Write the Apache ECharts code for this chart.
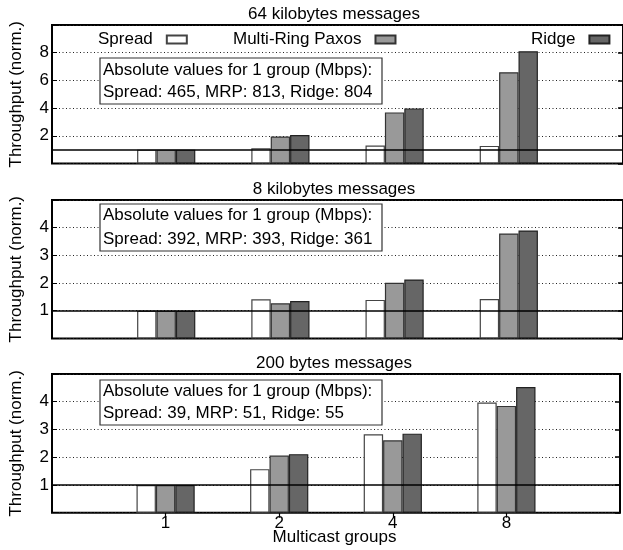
<!DOCTYPE html>
<html>
<head>
<meta charset="utf-8">
<script src="https://cdn.jsdelivr.net/npm/echarts@6/dist/echarts.min.js"></script>
<style>html,body{margin:0;padding:0;background:#fff;}#c{width:623px;height:550px;}</style>
</head>
<body>
<div id="c"></div>
<script>
// ---- data ----
var groups = ['1', '2', '4', '8'];
var seriesNames = ['Spread', 'Multi-Ring Paxos', 'Ridge'];
var panelTitles = ['64 kilobytes messages', '8 kilobytes messages', '200 bytes messages'];
var spread64 = [1, 1.10, 1.30, 1.27];
var mrp64    = [1, 1.95, 3.69, 6.59];
var ridge64  = [1, 2.05, 3.98, 8.11];
var spread8  = [1, 1.41, 1.39, 1.42];
var mrp8     = [1, 1.27, 2.01, 3.79];
var ridge8   = [1, 1.35, 2.13, 3.90];
var spread200 = [1, 1.57, 2.83, 3.97];
var mrp200    = [1, 2.06, 2.61, 3.85];
var ridge200  = [1, 2.11, 2.85, 4.53];
var yMax = [10, 5, 5];
var yInterval = [2, 1, 1];
var notes = [
  ['Absolute values for 1 group (Mbps):', 'Spread: 465, MRP: 813, Ridge: 804'],
  ['Absolute values for 1 group (Mbps):', 'Spread: 392, MRP: 393, Ridge: 361'],
  ['Absolute values for 1 group (Mbps):', 'Spread: 39, MRP: 51, Ridge: 55']
];
var panelData = [[spread64, mrp64, ridge64], [spread8, mrp8, ridge8], [spread200, mrp200, ridge200]];

// ---- layout ----
var FONT = "'Liberation Sans', Arial, sans-serif";
var FS = 17;
var cats = [''].concat(groups).concat(['']);
var grids = [
  {left: 44, top: 25, width: 581, height: 138.5},
  {left: 44, top: 200, width: 581, height: 138.4},
  {left: 44, top: 374, width: 581, height: 138.7}
];
var titleTops = [5.5, 180.5, 355];
var noteBoxes = [
  {y: 58, h: 46, l1: 70, l2: 92.5},
  {y: 204, h: 47, l1: 215.5, l2: 239},
  {y: 380, h: 45, l1: 391.5, l2: 413.5}
];
var styles = [
  {color: '#ffffff', borderColor: '#444444', borderWidth: 1.2},
  {color: '#999999', borderColor: '#333333', borderWidth: 1.2},
  {color: '#666666', borderColor: '#222222', borderWidth: 1.2}
];

var option = {
  animation: false,
  backgroundColor: '#fff',
  textStyle: {fontFamily: FONT},
  title: [], grid: [], xAxis: [], yAxis: [], series: [], legend: [], graphic: []
};

for (var p = 0; p < 3; p++) {
  var g = grids[p];
  option.grid.push({left: g.left, top: g.top, width: g.width, height: g.height,
    show: true, borderColor: '#000', borderWidth: 2, backgroundColor: 'transparent'});
  option.title.push({text: panelTitles[p], left: g.left + g.width / 2 - 0.5, top: titleTops[p],
    textAlign: 'center', padding: 0,
    textStyle: {fontFamily: FONT, fontSize: FS, fontWeight: 'normal', color: '#000'}});
  // bottom x axis
  option.xAxis.push({type: 'category', gridIndex: p, data: cats, boundaryGap: false,
    axisLine: {show: false},
    axisTick: {show: p === 2, inside: true, length: 5, lineStyle: {color: '#000'},
      interval: function (i, v) { return v !== ''; }},
    axisLabel: {show: p === 2, color: '#000', fontSize: FS, fontFamily: FONT, margin: 2,
      interval: 0},
    splitLine: {show: false}});
  // top mirror x axis (ticks only)
  option.xAxis.push({type: 'category', gridIndex: p, data: cats, boundaryGap: false, position: 'top',
    axisLine: {show: false},
    axisTick: {show: p === 2, inside: true, length: 5, lineStyle: {color: '#000', width: 1.2},
      interval: function (i, v) { return v !== ''; }},
    axisLabel: {show: false}, splitLine: {show: false}});
  (function (mx) {
    option.yAxis.push({type: 'value', gridIndex: p, min: 0, max: mx, interval: yInterval[p],
      name: 'Throughput (norm.)', nameLocation: 'middle', nameGap: 27, nameRotate: 90,
      nameTextStyle: {fontFamily: FONT, fontSize: FS, color: '#000'},
      axisLine: {show: false},
      axisTick: {show: true, inside: true, length: 5, lineStyle: {color: '#000'}},
      axisLabel: {color: '#000', fontSize: FS, fontFamily: FONT, margin: 3,
        formatter: function (v) { return (v > 0 && v < mx) ? String(v) : ''; }},
      splitLine: {show: true, lineStyle: {color: '#222', type: [1, 2.5], width: 1}}});
    option.yAxis.push({type: 'value', gridIndex: p, min: 0, max: mx, interval: yInterval[p],
      position: 'right',
      axisLine: {show: false},
      axisTick: {show: true, inside: true, length: 5, lineStyle: {color: '#000', width: 1.5}},
      axisLabel: {show: false}, splitLine: {show: false}});
  })(yMax[p]);

  for (var s = 0; s < 3; s++) {
    var vals = ['-'].concat(panelData[p][s]).concat(['-']);
    var ser = {type: 'bar', name: seriesNames[s], xAxisIndex: p * 2, yAxisIndex: p * 2,
      data: vals, barWidth: 19.4, barGap: '0%', itemStyle: styles[s], z: 2};
    if (s === 2) {
      ser.markLine = {silent: true, symbol: 'none', animation: false,
        label: {show: false},
        lineStyle: {color: '#000', width: 1.6, type: 'solid'},
        data: [{yAxis: 1}]};
    }
    option.series.push(ser);
  }

  var nb = noteBoxes[p];
  option.graphic.push({type: 'rect', z: 50, shape: {x: 100, y: nb.y, width: 282, height: nb.h},
    style: {fill: '#fff', stroke: '#333', lineWidth: 1.2}});
  option.graphic.push({type: 'text', z: 51, x: 103, y: nb.l1,
    style: {text: notes[p][0], font: FS + 'px ' + FONT, fill: '#000', textVerticalAlign: 'middle'}});
  option.graphic.push({type: 'text', z: 51, x: 103, y: nb.l2,
    style: {text: notes[p][1], font: FS + 'px ' + FONT, fill: '#000', textVerticalAlign: 'middle'}});
}

// legends (panel 1 only)
var legendLefts = [98, 233, 531];
for (var k = 0; k < 3; k++) {
  option.legend.push({data: [seriesNames[k]], left: legendLefts[k], top: 31, align: 'right',
    orient: 'horizontal', padding: 0, itemWidth: 20, itemHeight: 8, icon: 'rect',
    selectedMode: false,
    textStyle: {fontFamily: FONT, fontSize: FS, color: '#000', padding: [0, 9, 0, 0]}});
}

option.graphic.push({type: 'text', z: 51, x: 334.5, y: 537,
  style: {text: 'Multicast groups', font: FS + 'px ' + FONT, fill: '#000',
    textAlign: 'center', textVerticalAlign: 'middle'}});

var chart = echarts.init(document.getElementById('c'), null, {renderer: 'canvas'});
chart.setOption(option);
</script>
</body>
</html>
